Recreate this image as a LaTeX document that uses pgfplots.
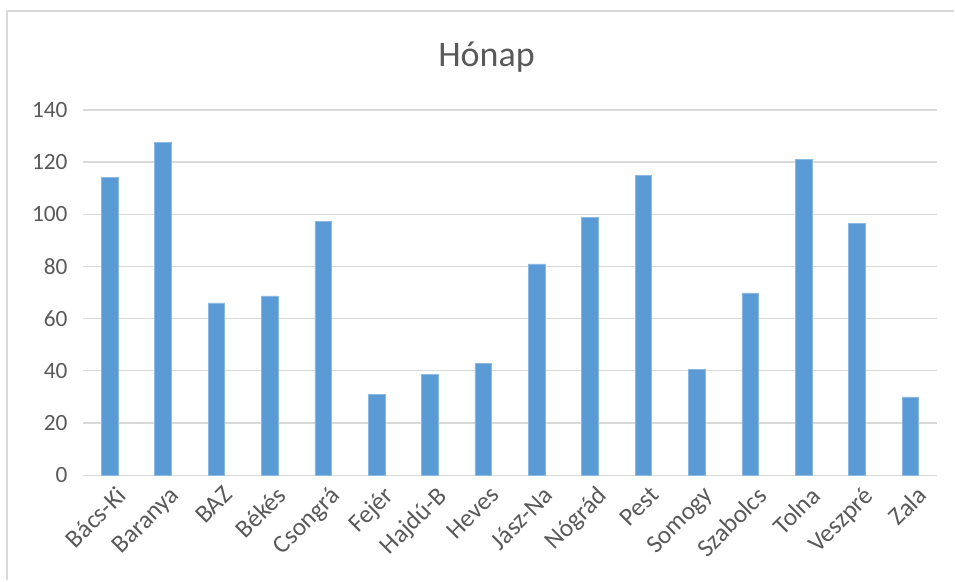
\documentclass[border=0pt]{standalone}
\usepackage{pgfplots}
\pgfplotsset{compat=1.18}
\usepackage{fontspec}
\setmainfont{Carlito}
\definecolor{barblue}{HTML}{5B9BD5}
\definecolor{gridgray}{HTML}{D9D9D9}
\definecolor{txtgray}{HTML}{595959}
\begin{document}
\begin{tikzpicture}[x=0.75pt,y=0.75pt]
\path (0,0) rectangle (955,581);
\draw[gridgray,line width=1.5pt] (7,0) -- (7,570) -- (955,570);
\node[txtgray,font=\fontsize{27}{32}\selectfont,anchor=base] at (487,514.3) {Hónap};
\begin{axis}[
  at={(83*0.75pt,105.3*0.75pt)}, anchor=south west,
  scale only axis, width=641.25pt, height=274.3pt,
  xmin=-0.5, xmax=15.5, ymin=0, ymax=140,
  ytick={0,20,...,140},
  xtick={0,...,15},
  xticklabels={Bács-Ki,Baranya,BAZ,Békés,Csongrá,Fejér,Hajdú-B,Heves,Jász-Na,Nógrád,Pest,Somogy,Szabolcs,Tolna,Veszpré,Zala},
  x tick label style={rotate=45,anchor=north east,inner sep=1pt,xshift=-1pt,yshift=-7pt,font=\fontsize{19}{22}\selectfont},
  y tick label style={xshift=-8pt,font=\fontsize{17.5}{21}\selectfont},
  tick label style={txtgray},
  /pgf/number format/assume math mode=true,
  major tick length=0pt,
  ymajorgrids, grid style={gridgray,line width=1pt},
  axis y line*=left,
  y axis line style={draw=none},
  axis x line*=bottom,
  x axis line style={gridgray,line width=1pt,-},
  ybar, bar width=12.5pt,
]
\addplot[fill=barblue,draw=barblue!70!white,line width=0.4pt] coordinates {
(0,114) (1,127.6) (2,66) (3,68.7) (4,97.3) (5,31) (6,38.5) (7,42.8)
(8,81) (9,98.8) (10,115) (11,40.6) (12,69.9) (13,121.1) (14,96.6) (15,30)
};
\end{axis}
\end{tikzpicture}
\end{document}
